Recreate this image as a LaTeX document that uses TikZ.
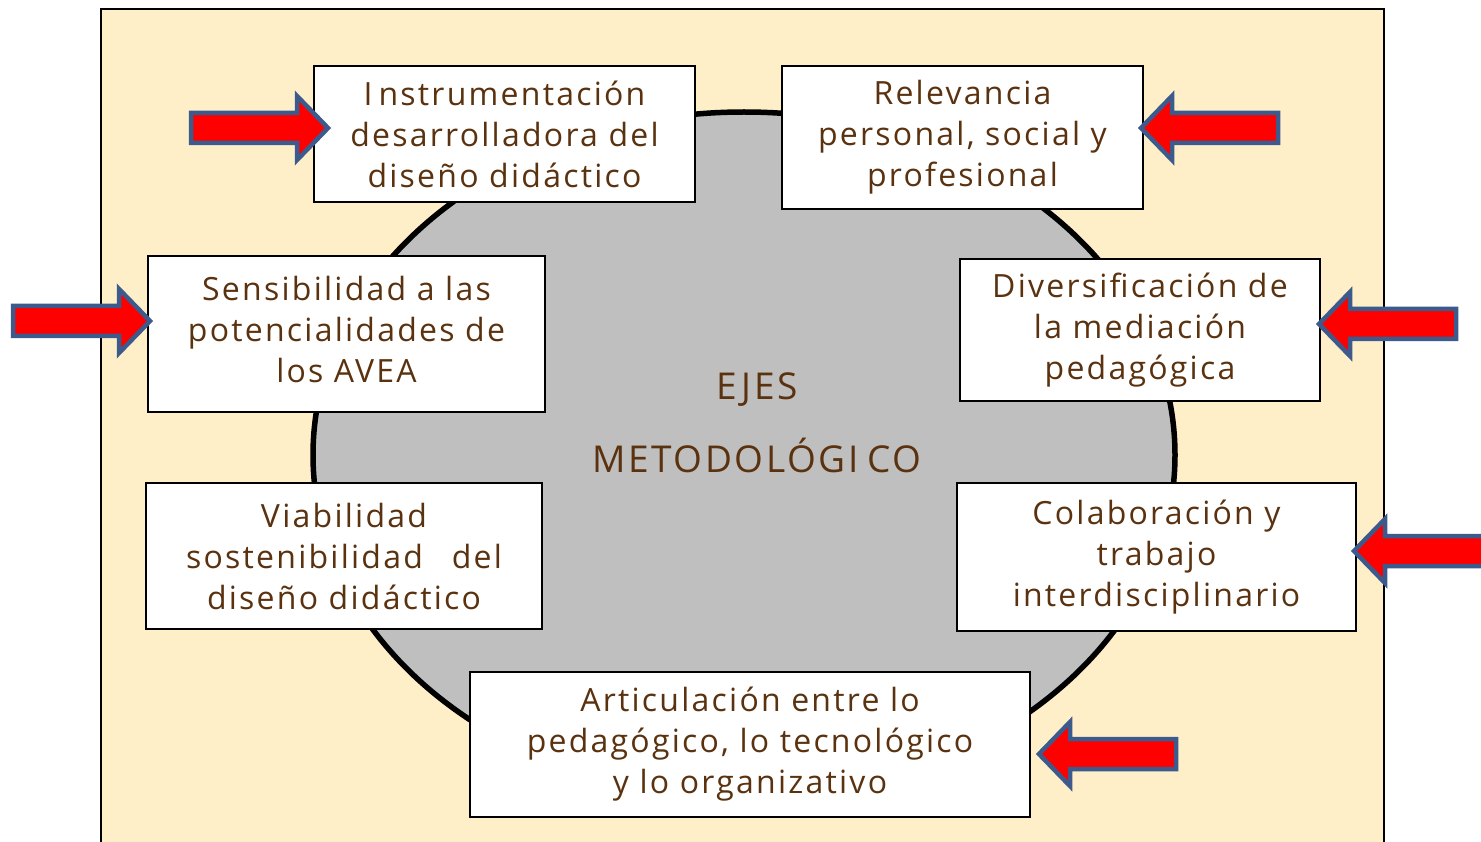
\documentclass[tikz,border=0pt]{standalone}
\usepackage{fontspec}
\setmainfont{Open Sans}[LetterSpace=7]
\usetikzlibrary{positioning}
\definecolor{cream}{RGB}{255,239,201}
\definecolor{ejegray}{RGB}{191,191,191}
\definecolor{ejetext}{RGB}{90,50,15}
\definecolor{arrowblue}{RGB}{60,90,140}
\definecolor{arrowred}{RGB}{255,0,0}

\begin{document}
\begin{tikzpicture}[x=1pt,y=-1pt,
    eje/.style={draw=black,line width=2.2pt,fill=white,inner sep=0pt,align=center,
      text=ejetext,font=\fontsize{32}{41}\selectfont},
    blockarrow/.pic={\draw[line width=4.5pt,draw=arrowblue,fill=arrowred]
      (-3,0) -- (-34,-32) -- (-34,-15) -- (-140,-15) -- (-140,15) -- (-34,15) -- (-34,32) -- cycle;}]
    \useasboundingbox (0,0) rectangle (1481,842);
    % background frame
    \draw[fill=cream,line width=2.5pt] (101,9) rectangle (1384,870);

    % central ellipse
    \draw[fill=ejegray,line width=5.5pt] (744,455) ellipse [x radius=431,y radius=343];
    \node[text=ejetext,font=\fontsize{37}{73}\selectfont,align=center] (title) at (757,423)
      {EJES\\METODOLÓGI\kern9pt CO};

    % axes
    \node[eje,minimum width=381,minimum height=136] (instr) at (504.5,134)
      {I\kern6pt nstrumentación\\desarrolladora del\\diseño didáctico};
    \node[eje,minimum width=361,minimum height=143] (relev) at (962.5,137.5)
      {Relevancia\\personal, social y\\profesional};
    \node[eje,minimum width=397,minimum height=156] (sensi) at (346.5,334)
      {Sensibilidad a las\\potencialidades de\\los AVEA\vspace{10pt}};
    \node[eje,minimum width=360,minimum height=142] (diver) at (1140,330)
      {Diversificación de\\la mediación\\pedagógica};
    \node[eje,minimum width=396,minimum height=146] (viab) at (344,556)
      {Viabilidad\\sostenibilidad\hspace{0.9em}del\\diseño didáctico};
    \node[eje,minimum width=399,minimum height=148] (colab) at (1156.5,557)
      {Colaboración y\\trabajo\\interdisciplinario};
    \node[eje,minimum width=560,minimum height=145] (artic) at (750,744.5)
      {Articulación entre lo\\pedagógico, lo tecnológico\\y lo organizativo};

    % arrows
    \pic at (331,128) {blockarrow};
    \pic[rotate=180] at (1138,128) {blockarrow};
    \pic at (153,321) {blockarrow};
    \pic[rotate=180] at (1316,324) {blockarrow};
    \pic[rotate=180] at (1351,551) {blockarrow};
    \pic[rotate=180] at (1036,754) {blockarrow};
\end{tikzpicture}
\end{document}
